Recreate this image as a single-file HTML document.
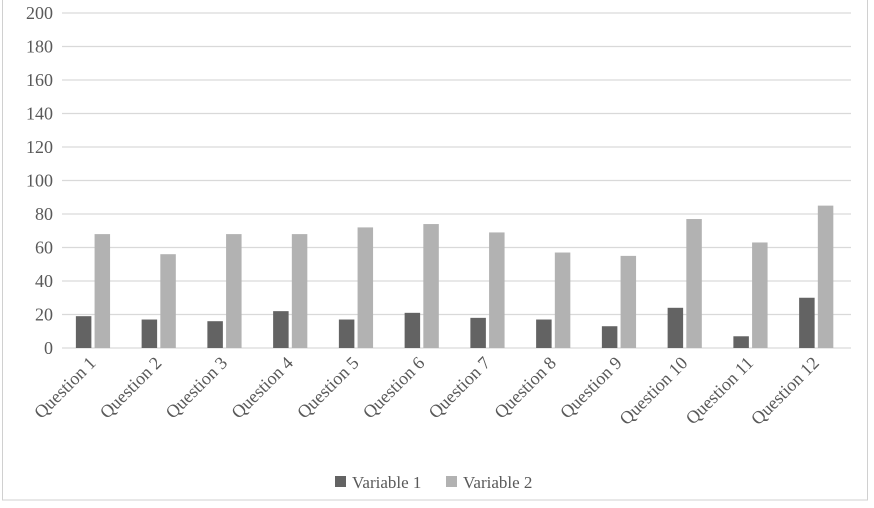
<!DOCTYPE html>
<html><head><meta charset="utf-8"><style>
html,body{margin:0;padding:0;background:#fff;}
svg text{font-family:"Liberation Serif",serif;fill:#595959;}
</style></head><body>
<svg width="874" height="503" viewBox="0 0 874 503">
<rect x="2.5" y="-1" width="865" height="501" fill="#fff" stroke="#d0d0d0"/>
<g id="grid"></g>
<g id="ylab"></g>
<g id="bars"></g>
<g id="xlab"></g>
<g>
<g><rect x="335" y="476" width="11" height="11" fill="#636363"/><text x="352" y="488" font-size="17">Variable 1</text></g>
<g><rect x="446" y="476" width="11" height="11" fill="#b2b2b2"/><text x="463" y="488" font-size="17">Variable 2</text></g>
</g>
</svg>
<script>
const categories=["Question 1","Question 2","Question 3","Question 4","Question 5","Question 6","Question 7","Question 8","Question 9","Question 10","Question 11","Question 12"];
const variable1=[19,17,16,22,17,21,18,17,13,24,7,30];
const variable2=[68,56,68,68,72,74,69,57,55,77,63,85];
const yTicks=[0,20,40,60,80,100,120,140,160,180,200];
const NS="http://www.w3.org/2000/svg";
const x0=62,x1=851,y0=348,yTop=13,yMax=200;
const y=v=>y0-(v/yMax)*(y0-yTop);
const cw=(x1-x0)/categories.length;
const xc=i=>x0+cw*(i+0.5);
function mk(t,a,p){const e=document.createElementNS(NS,t);for(const k in a)e.setAttribute(k,a[k]);p.appendChild(e);return e;}
const grid=document.getElementById('grid'),ylab=document.getElementById('ylab'),bars=document.getElementById('bars'),xlab=document.getElementById('xlab');
yTicks.forEach(t=>{
 const l=mk('line',{x1:x0,x2:x1,y1:y(t),y2:y(t),stroke:'#d9d9d9','stroke-width':1.3},grid);
 
 
 const tx=mk('text',{x:53,y:y(t)+6,'text-anchor':'end','font-size':18},ylab);
 tx.textContent=t;
 
 
});
categories.forEach((c,i)=>{
 const cx=xc(i);
 const b1=mk('rect',{x:cx-19,y:y(variable1[i]),width:15.5,height:y0-y(variable1[i]),fill:'#636363'},bars);
 
 
 const b2=mk('rect',{x:cx-0.3,y:y(variable2[i]),width:15.5,height:y0-y(variable2[i]),fill:'#b2b2b2'},bars);
 
 
 const t=mk('text',{x:cx+2,y:364,'text-anchor':'end','font-size':18,transform:`rotate(-45 ${cx+2} 364)`},xlab);
 t.textContent=c;
 
 
});
</script>
</body></html>
